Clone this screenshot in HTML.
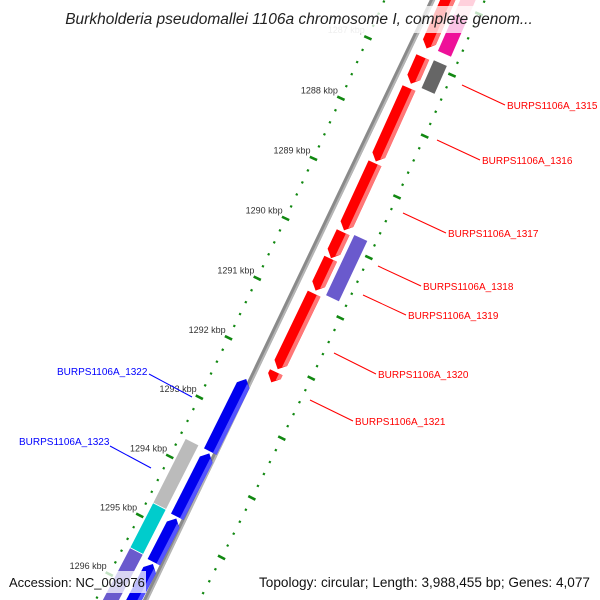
<!DOCTYPE html>
<html><head><meta charset="utf-8"><style>
html,body{margin:0;padding:0;background:#fff;width:600px;height:600px;overflow:hidden;}
svg{display:block;font-family:"Liberation Sans",sans-serif;overflow:hidden;}
</style></head><body>
<svg id="chart" width="600" height="600" viewBox="0 0 600 600" xmlns="http://www.w3.org/2000/svg">
<g id="ticks"></g>
<g id="backbone"></g>
<g id="features"></g>
<g id="labels">
 <line x1="462" y1="85" x2="505" y2="105" stroke="#f00" stroke-width="1"/>
 <text x="507" y="109" font-size="10" fill="#f00">BURPS1106A_1315</text>
 <line x1="437" y1="140" x2="480" y2="160" stroke="#f00" stroke-width="1"/>
 <text x="482" y="164" font-size="10" fill="#f00">BURPS1106A_1316</text>
 <line x1="403" y1="213" x2="446" y2="233" stroke="#f00" stroke-width="1"/>
 <text x="448" y="237" font-size="10" fill="#f00">BURPS1106A_1317</text>
 <line x1="378" y1="266" x2="421" y2="286" stroke="#f00" stroke-width="1"/>
 <text x="423" y="290" font-size="10" fill="#f00">BURPS1106A_1318</text>
 <line x1="363" y1="295" x2="406" y2="315" stroke="#f00" stroke-width="1"/>
 <text x="408" y="319" font-size="10" fill="#f00">BURPS1106A_1319</text>
 <line x1="334" y1="353" x2="376" y2="374" stroke="#f00" stroke-width="1"/>
 <text x="378" y="378" font-size="10" fill="#f00">BURPS1106A_1320</text>
 <line x1="310" y1="400" x2="353" y2="421" stroke="#f00" stroke-width="1"/>
 <text x="355" y="425" font-size="10" fill="#f00">BURPS1106A_1321</text>
 <line x1="149" y1="374" x2="192" y2="397" stroke="#00f" stroke-width="1"/>
 <text x="57" y="375" font-size="10" fill="#00f">BURPS1106A_1322</text>
 <line x1="110" y1="446" x2="151" y2="468" stroke="#00f" stroke-width="1"/>
 <text x="19" y="445" font-size="10" fill="#00f">BURPS1106A_1323</text>
</g>
<rect x="55" y="6" width="490" height="27" fill="#fff" fill-opacity="0.75"/>
<text x="299" y="24" font-size="15.5" font-style="italic" fill="#222" text-anchor="middle">Burkholderia pseudomallei 1106a chromosome I, complete genom...</text>
<rect x="4" y="571" width="142" height="22" fill="#fff" fill-opacity="0.75"/>
<text x="9" y="587" font-size="13" fill="#111">Accession: NC_009076</text>
<text x="590" y="587" font-size="13.6" fill="#111" text-anchor="end">Topology: circular; Length: 3,988,455 bp; Genes: 4,077</text>
</svg>
<script>
// ---- data (kbp) ----
const tickKbp = [1287, 1288, 1289, 1290, 1291, 1292, 1293, 1294, 1295, 1296];
const tickLabels = ["1287 kbp","1288 kbp","1289 kbp","1290 kbp","1291 kbp","1292 kbp","1293 kbp","1294 kbp","1295 kbp","1296 kbp"];
const fwdStarts = [1285.71, 1286.93, 1287.44, 1288.68, 1289.82, 1290.26, 1290.84, 1292.15];
const fwdEnds   = [1286.79, 1287.37, 1288.65, 1289.79, 1290.25, 1290.79, 1292.10, 1292.32];
const revStarts = [1292.44, 1293.69, 1294.79, 1295.56];
const revEnds   = [1293.66, 1294.76, 1295.53, 1296.44];
const outerRStarts = [1285.71, 1286.15, 1286.90, 1289.78];
const outerREnds   = [1286.15, 1286.76, 1287.37, 1290.79];
const outerRColors = ["#ffd0dc", "#ee1199", "#666666", "#6a5acd"];
const outerLStarts = [1293.65, 1294.74, 1295.50];
const outerLEnds   = [1294.74, 1295.50, 1296.44];
const outerLColors = ["#bbbbbb", "#00cccc", "#6a5acd"];

// ---- axis: kbp -> arc length, (u,v) -> pixel ----
const CX = -8014, CY = -3674, R = 9213, A0 = 0.4101;
function vOf(kbp){ return 262 + (kbp - 1290) * 66.5; }
function pt(u, v){ const a = A0 + v / R, r = R + u; return [CX + r * Math.cos(a), CY + r * Math.sin(a)]; }
function poly(points){ return points.map(p => { const q = pt(p[0], p[1]); return q[0].toFixed(1) + "," + q[1].toFixed(1); }).join(" "); }
const NS = "http://www.w3.org/2000/svg";
function mk(tag, attrs, parent){ const e = document.createElementNS(NS, tag); for (const k in attrs) e.setAttribute(k, attrs[k]); parent.appendChild(e); return e; }

// ticks
const tg = document.getElementById("ticks");
for (let s = -1; s <= 1; s += 2) {
  const uu = 46 * s;
  for (let k = 1285.8; k <= 1296.6; k += 0.2) {
    const kk = Math.round(k * 10) / 10;
    const isMajor = Math.abs(kk - Math.round(kk)) < 0.01;
    const v = vOf(kk), hl = isMajor ? 4 : 1.1, hw = isMajor ? 1.3 : 1.1;
    const p = mk("polygon", {points: poly([[uu - hl, v - hw], [uu + hl, v - hw], [uu + hl, v + hw], [uu - hl, v + hw]]), fill: "#118811"}, tg);
    
    
  }
}
tickKbp.forEach((k, i) => {
  const q = pt(-52, vOf(k) - 6);
  const t = mk("text", {x: q[0].toFixed(1), y: (q[1] + 3).toFixed(1), "font-size": "9", fill: k === 1287 ? "#bbb" : "#333", "text-anchor": "end"}, tg);
  t.textContent = tickLabels[i];
  
  
});

// backbone
const bg = document.getElementById("backbone");
const b1 = mk("polygon", {points: poly([[-3, -40], [2, -40], [2, 700], [-3, 700]]), fill: "#8a8a8a"}, bg);


const b2 = mk("polygon", {points: poly([[0, -40], [2, -40], [2, 700], [0, 700]]), fill: "#b5b5b5"}, bg);



// features
const fg = document.getElementById("features");
function arrow(s, e, u1, u2, dir, col, light, name){
  const v1 = vOf(s), v2 = vOf(e), h = Math.min(7, v2 - v1), um = (u1 + u2) / 2;
  let pts;
  if (dir > 0) pts = [[u1, v1], [u2, v1], [u2, v2 - h], [um, v2], [u1, v2 - h]];
  else pts = [[um, v1], [u2, v1 + h], [u2, v2], [u1, v2], [u1, v1 + h]];
  const p = mk("polygon", {points: poly(pts), fill: col}, fg);
  
  
  const ul = u2 - 4;
  let hp;
  if (dir > 0) hp = [[ul, v1], [u2, v1], [u2, v2 - h], [ul, v2 - h * 0.55]];
  else hp = [[ul, v1 + h * 0.55], [u2, v1 + h], [u2, v2], [ul, v2]];
  const q = mk("polygon", {points: poly(hp), fill: light}, fg);
  
  
}
fwdStarts.forEach((s, i) => arrow(s, fwdEnds[i], 5, 19, 1, "#ff0000", "#ff7777", "forward-gene"));
revStarts.forEach((s, i) => arrow(s, revEnds[i], -19, -5, -1, "#0000ee", "#5555ff", "reverse-gene"));
function box(s, e, u1, u2, col, name){
  const v1 = vOf(s), v2 = vOf(e);
  const p = mk("polygon", {points: poly([[u1, v1], [u2, v1], [u2, v2], [u1, v2]]), fill: col, stroke: "#fff", "stroke-width": "0.8"}, fg);
  
  
}
outerRStarts.forEach((s, i) => box(s, outerREnds[i], 23, 38, outerRColors[i], "outer-feature-right"));
outerLStarts.forEach((s, i) => box(s, outerLEnds[i], -40, -25, outerLColors[i], "outer-feature-left"));
</script>
</body></html>
